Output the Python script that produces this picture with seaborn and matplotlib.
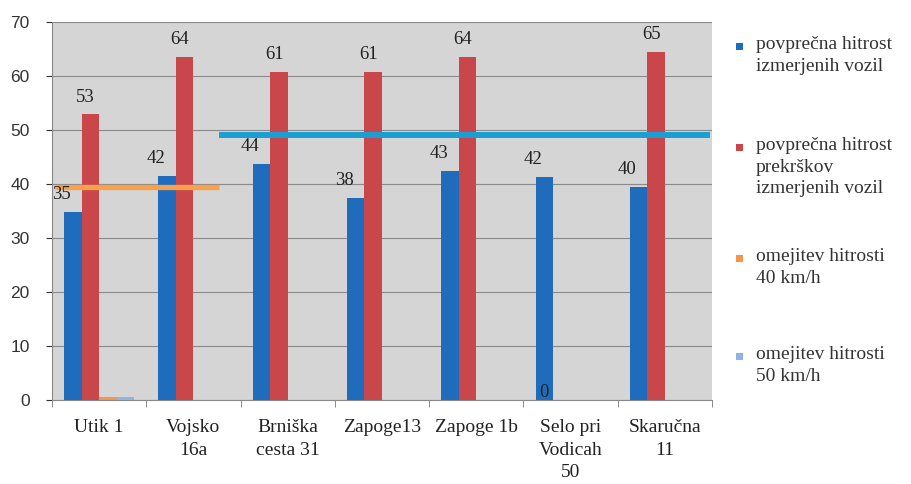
import pandas as pd
import numpy as np
import matplotlib
matplotlib.use('Agg')
import matplotlib.pyplot as plt
import seaborn as sns
from matplotlib.patches import Rectangle

kraji = ['Utik 1', 'Vojsko\n16a', 'Brniška\ncesta 31', 'Zapoge13', 'Zapoge 1b',
         'Selo pri\nVodicah\n50', 'Skaručna\n11']
hitrost_vozil = [34.8, 41.5, 43.7, 37.4, 42.4, 41.3, 39.4]
hitrost_prekrskov = [52.9, 63.6, 60.8, 60.8, 63.6, 0, 64.5]
omejitev_40 = [0.6, 0, 0, 0, 0, 0, 0]
omejitev_50 = [0.5, 0, 0, 0, 0, 0, 0]
oznake_vozil = ['35', '42', '44', '38', '43', '42', '40']
oznake_prekrskov = ['53', '64', '61', '61', '64', '0', '65']
meja_40 = 39.5
meja_50 = 49

serije = ['povprečna hitrost\nizmerjenih vozil',
          'povprečna hitrost\nprekrškov\nizmerjenih vozil',
          'omejitev hitrosti\n40 km/h',
          'omejitev hitrosti\n50 km/h']
barve = ['#1f6cbc', '#c9474b', '#f5944a', '#8db4e2']

df = pd.DataFrame({'kraj': kraji,
                   serije[0]: hitrost_vozil,
                   serije[1]: hitrost_prekrskov,
                   serije[2]: omejitev_40,
                   serije[3]: omejitev_50})
df = df.melt(id_vars='kraj', var_name='serija', value_name='hitrost')

sns.set_style('white')
plt.rcParams['font.family'] = ['Liberation Serif', 'DejaVu Serif']

fig = plt.figure(figsize=(9.11, 4.84), dpi=100)
ax = fig.add_axes([0.057, 0.1736, 0.7245, 0.781])
ax.set_facecolor('#d5d5d5')

sns.barplot(data=df, x='kraj', y='hitrost', hue='serija', order=kraji, hue_order=serije,
            palette=dict(zip(serije, barve)), width=0.74, saturation=1, ax=ax,
            legend=False, linewidth=0, zorder=3)

# crti omejitev hitrosti
ax.hlines(meja_40, -0.47, 1.27, color='#f7a14c', lw=3.8, zorder=4)
ax.hlines(meja_50, 1.27, 6.48, color='#1b9fd2', lw=4.3, zorder=4)

# oznake vrednosti
sirina = 0.74 / 4
for i in range(len(kraji)):
    xb = i - 1.5 * sirina
    xr = i - 0.5 * sirina
    ax.text(xb - 0.12, hitrost_vozil[i] + 3.2, oznake_vozil[i], ha='center', va='center',
            fontsize=13.5, color='#222222', zorder=5)
    yr = hitrost_prekrskov[i] + 3.2 if hitrost_prekrskov[i] > 0 else 1.3
    xr2 = xr - 0.05 if hitrost_prekrskov[i] > 0 else xb
    ax.text(xr2, yr, oznake_prekrskov[i], ha='center', va='center',
            fontsize=13.5, color='#222222', zorder=5)

ax.set_ylim(0, 70)
ax.set_xlim(-0.5, len(kraji) - 0.5)
ax.set_yticks(range(0, 71, 10))
ax.yaxis.grid(True, color='#8a8a8a', lw=0.8, zorder=0)
ax.set_axisbelow(True)
ax.set_xlabel('')
ax.set_ylabel('')

for lab in ax.get_yticklabels():
    lab.set_family(['Liberation Sans', 'DejaVu Sans'])
ax.tick_params(axis='y', labelsize=12.5, colors='#333333', length=4, left=True, pad=12)
ax.tick_params(axis='x', which='major', length=0, labelsize=14, pad=14)
ax.set_xticks(np.arange(-0.5, len(kraji)), minor=True)
ax.tick_params(axis='x', which='minor', length=5, color='#777777', bottom=True)
for lab in ax.get_xticklabels():
    lab.set_verticalalignment('top')
    lab.set_color('#222222')
    lab.set_linespacing(1.4)

for s in ['top', 'right']:
    ax.spines[s].set_visible(False)
ax.spines['left'].set_color('#888888')
ax.spines['bottom'].set_color('#888888')

# legenda desno
W, H = 911, 484
vrhovi = [47, 148, 259, 357]
for serija, barva, yc in zip(serije, barve, vrhovi):
    fig.patches.append(Rectangle((736 / W, 1 - (yc + 3) / H), 7 / W, 7 / H,
                                 transform=fig.transFigure, facecolor=barva,
                                 edgecolor='none'))
    fig.text(756 / W, 1 - (yc - 11) / H, serija, ha='left', va='top',
             fontsize=14, color='#333333', linespacing=1.35)

fig.savefig('out.png', dpi=100)
